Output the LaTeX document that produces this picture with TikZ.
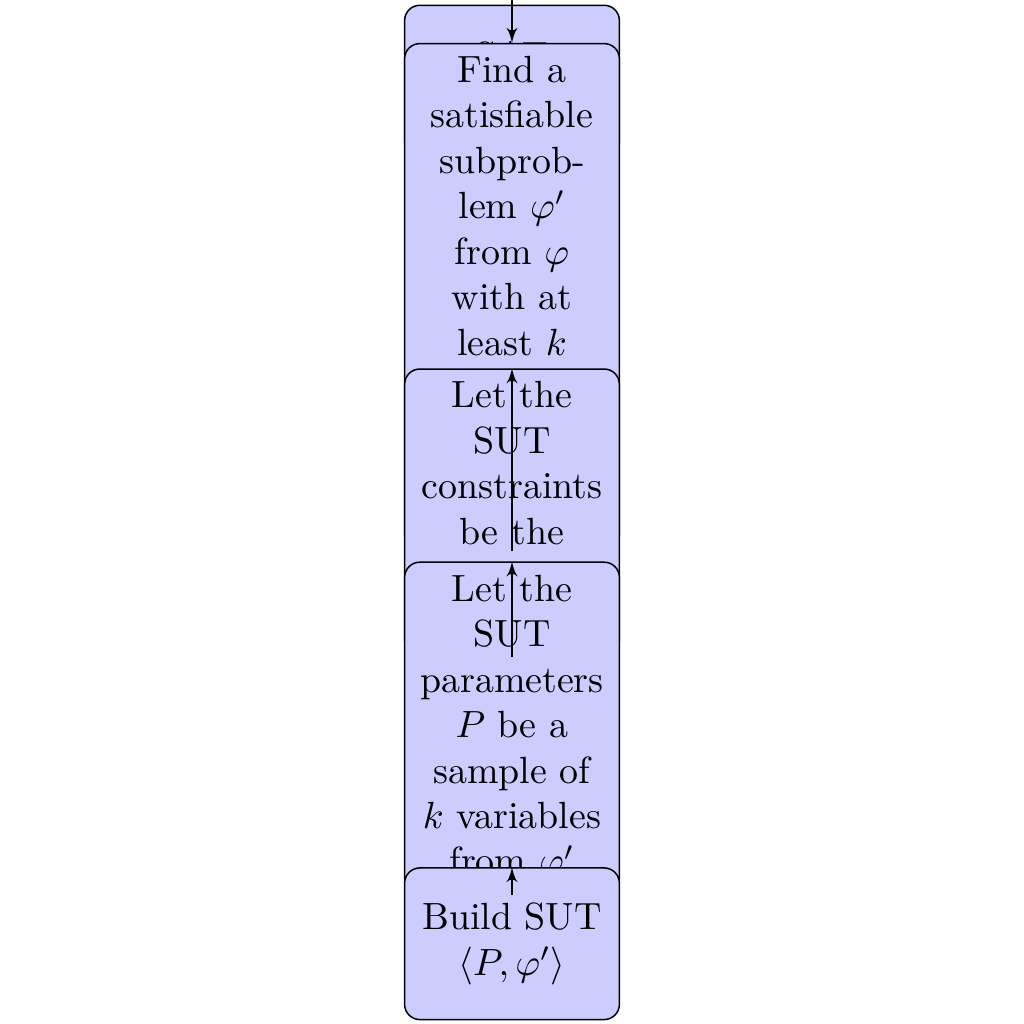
\documentclass[tikz,border=0pt]{standalone}
\usetikzlibrary{arrows}
\tikzset{
  block/.style={rectangle, draw, fill=blue!20, text width=5em, align=center,
    rounded corners, minimum height=4em},
  line/.style={draw, -latex'}
}
\begin{document}
\begin{tikzpicture}[node distance=2cm]
\useasboundingbox (-135.1pt,21.4pt) rectangle (135.1pt,-248.7pt);
\node[block] (sat) {SAT\\\vphantom{$\varphi$}};
\node[block, below of=sat] (find) {Find a\\ satisfiable\\ subprob-\\ lem $\varphi'$\\ from $\varphi$\\ with at\\ least $k$\\ \mbox{}\\ \mbox{}\\ \mbox{}\\ \mbox{}};
\node[block, below of=find] (cons) {Let the\\ SUT\\ constraints\\ be the\\ \mbox{}\\ \vphantom{g}};
\node[block, below of=cons] (params) {Let the\\ SUT\\ parameters\\ $P$ be a\\ sample of\\ $k$ variables\\ from $\varphi'$};
\node[block, below of=params] (build) {Build SUT\\ $\langle P,\varphi'\rangle$};
\coordinate (in) at (0,22pt);
\path[line] (in) -- (find);
\path[line] (find) -- (cons);
\path[line] (cons) -- (params);
\path[line] (params) -- (build);
\end{tikzpicture}
\end{document}
